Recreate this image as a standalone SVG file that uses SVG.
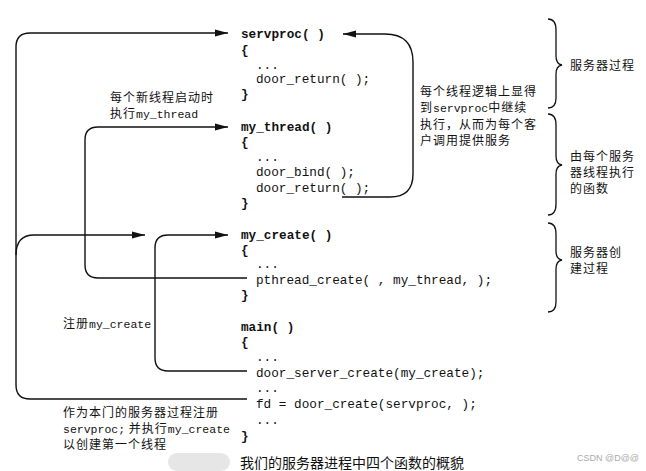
<svg xmlns="http://www.w3.org/2000/svg" width="646" height="471" viewBox="0 0 646 471">
<defs>
<marker id="ah" markerUnits="userSpaceOnUse" markerWidth="14" markerHeight="8" refX="13" refY="4" orient="auto">
<path d="M0,0.6 L13,4 L0,7.4 Z" fill="#111"/>
</marker>
<style>
.code{font-family:"Liberation Mono","DejaVu Sans Mono",monospace;font-size:12.7px;fill:#111}
.fn{font-weight:bold}
.cn{font-family:"Noto Sans CJK SC","Noto Sans",sans-serif;font-size:12px;fill:#111;letter-spacing:1px}
.mono{font-family:"Liberation Mono",monospace;font-size:11.5px;letter-spacing:0}
.conn{fill:none;stroke:#111;stroke-width:1.4}
.brace{fill:none;stroke:#111;stroke-width:1.3}
</style>
</defs>
<rect width="646" height="471" fill="#fff"/>

<g id="connectors">
<path class="conn" d="M247 399 H30 Q16 399 16 385 V47 Q16 33 30 33 H228" marker-end="url(#ah)"/>
<path class="conn" d="M16 255 Q16 235 34 235 H145" marker-end="url(#ah)"/>
<path class="conn" d="M247 371 H168 Q155 371 155 358 V248 Q155 235 168 235 H228" marker-end="url(#ah)"/>
<path class="conn" d="M247 278 H98 Q85 278 85 265 V140 Q85 127 98 127 H228" marker-end="url(#ah)"/>
<path class="conn" d="M342 197 H390 Q413 197 413 174 V62 Q413 34 385 34 H343" marker-end="url(#ah)"/>
</g>

<g id="servproc">
<text class="code fn" x="241" y="38">servproc( )</text>
<text class="code fn" x="241" y="54">{</text>
<text class="code" x="256" y="69">...</text>
<text class="code" x="256" y="83">door_return( );</text>
<text class="code fn" x="241" y="98">}</text>
</g>

<g id="my_thread">
<text class="code fn" x="241" y="131">my_thread( )</text>
<text class="code fn" x="241" y="146">{</text>
<text class="code" x="256" y="161">...</text>
<text class="code" x="256" y="176">door_bind( );</text>
<text class="code" x="256" y="192">door_return( );</text>
<text class="code fn" x="241" y="207">}</text>
</g>

<g id="my_create">
<text class="code fn" x="241" y="239">my_create( )</text>
<text class="code fn" x="241" y="254">{</text>
<text class="code" x="256" y="268">...</text>
<text class="code" x="256" y="284">pthread_create( , my_thread, );</text>
<text class="code fn" x="241" y="299">}</text>
</g>

<g id="main">
<text class="code fn" x="241" y="331">main( )</text>
<text class="code fn" x="241" y="346">{</text>
<text class="code" x="256" y="361">...</text>
<text class="code" x="256" y="377">door_server_create(my_create);</text>
<text class="code" x="256" y="392">...</text>
<text class="code" x="256" y="408">fd = door_create(servproc, );</text>
<text class="code" x="256" y="424">...</text>
<text class="code fn" x="241" y="440">}</text>
</g>

<g id="label-thread-start">
<text class="cn" x="110" y="102">每个新线程启动时</text>
<text class="cn" x="110" y="118">执行<tspan class="mono">my_thread</tspan></text>
</g>

<g id="label-loop">
<text class="cn" x="420" y="96">每个线程逻辑上显得</text>
<text class="cn" x="420" y="112">到<tspan class="mono" font-size="12px" letter-spacing="0.6px">servproc</tspan>中继续</text>
<text class="cn" x="420" y="129">执行，从而为每个客</text>
<text class="cn" x="420" y="145">户调用提供服务</text>
</g>

<g id="label-register">
<text class="cn" x="63" y="328">注册<tspan class="mono">my_create</tspan></text>
</g>

<g id="label-door">
<text class="cn" x="63" y="417">作为本门的服务器过程注册</text>
<text class="cn" x="63" y="433"><tspan class="mono">servproc;</tspan> 并执行<tspan class="mono">my_create</tspan></text>
<text class="cn" x="63" y="449">以创建第一个线程</text>
</g>

<g id="brace-server">
<path class="brace" d="M548 19 Q556 19 556 30 V56 Q556 64 562 65 Q556 66 556 74 V98 Q556 108 548 108"/>
<text class="cn" x="570" y="70">服务器过程</text>
</g>

<g id="brace-thread">
<path class="brace" d="M548 114 Q556 114 556 125 V156 Q556 164 562 165 Q556 166 556 174 V204 Q556 215 548 215"/>
<text class="cn" x="570" y="161">由每个服务</text>
<text class="cn" x="570" y="177">器线程执行</text>
<text class="cn" x="570" y="193">的函数</text>
</g>

<g id="brace-create">
<path class="brace" d="M548 223 Q556 223 556 234 V251 Q556 259 562 260 Q556 261 556 269 V302 Q556 312 548 312"/>
<text class="cn" x="570" y="257">服务器创</text>
<text class="cn" x="570" y="273">建过程</text>
</g>

<g id="caption">
<rect x="168" y="453" width="62" height="18" rx="9" fill="#e6e6e6"/>
<text x="240" y="468" font-family="'Noto Sans CJK SC',sans-serif" font-size="14px" fill="#111">我们的服务器进程中四个函数的概貌</text>
<text x="577" y="461" font-family="'Liberation Sans',sans-serif" font-size="9px" fill="#aaa">CSDN @D@@</text>
</g>
</svg>
